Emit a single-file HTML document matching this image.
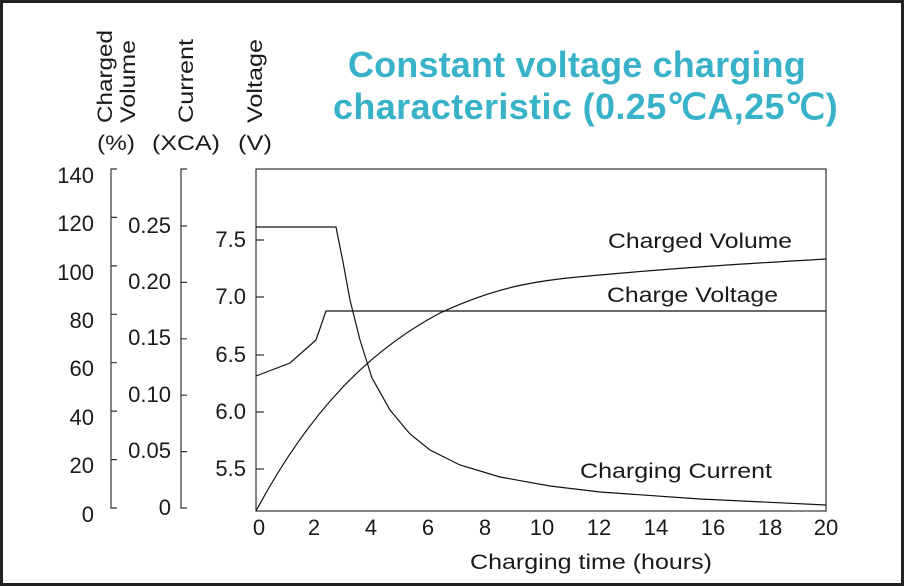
<!DOCTYPE html>
<html><head><meta charset="utf-8"><style>
html,body{margin:0;padding:0;background:#fff}
svg{display:block}
text{font-family:"Liberation Sans",Arial,sans-serif;fill:#1a1a1a}
</style></head><body>
<svg width="904" height="586" viewBox="0 0 904 586" xmlns="http://www.w3.org/2000/svg">
<rect x="1.5" y="1.5" width="901" height="583" fill="#fff" stroke="#222" stroke-width="3"/>
<g font-size="36" font-weight="bold" letter-spacing="0.3">
<text x="348" y="77" style="fill:#38b2c8" textLength="458">Constant voltage charging</text>
<text x="333" y="119" style="fill:#38b2c8" textLength="505">characteristic (0.25℃A,25℃)</text>
</g>
<g font-size="21">
<text transform="translate(112,123) rotate(-90)" textLength="93" lengthAdjust="spacingAndGlyphs">Charged</text>
<text transform="translate(135,123) rotate(-90)" textLength="83" lengthAdjust="spacingAndGlyphs">Volume</text>
<text transform="translate(193,123) rotate(-90)" textLength="84" lengthAdjust="spacingAndGlyphs">Current</text>
<text transform="translate(262,123) rotate(-90)" textLength="84" lengthAdjust="spacingAndGlyphs">Voltage</text>
<text x="97" y="150" textLength="38" lengthAdjust="spacingAndGlyphs">(%)</text>
<text x="152" y="150" textLength="68" lengthAdjust="spacingAndGlyphs">(XCA)</text>
<text x="238" y="150" textLength="34" lengthAdjust="spacingAndGlyphs">(V)</text>
</g>
<g stroke="#333" stroke-width="1.2" fill="none">
<path d="M117 169H111V508H117"/>
<path d="M111 217.4H117M111 265.9H117M111 314.3H117M111 362.7H117M111 411.1H117M111 459.6H117"/>
<path d="M187 169H181V508H187"/>
<path d="M181 226H187M181 282.4H187M181 338.8H187M181 395.2H187M181 451.6H187"/>
<rect x="256" y="169" width="570" height="342"/>
<path d="M256 240H264M256 297H264M256 355H264M256 412H264M256 469H264"/>
</g>
<g font-size="22" text-anchor="end">
<text x="94" y="183">140</text><text x="94" y="231">120</text><text x="94" y="280">100</text>
<text x="94" y="328">80</text><text x="94" y="376">60</text><text x="94" y="425">40</text>
<text x="94" y="473">20</text><text x="94" y="522">0</text>
<text x="171" y="233">0.25</text><text x="171" y="289">0.20</text><text x="171" y="345">0.15</text>
<text x="171" y="402">0.10</text><text x="171" y="458">0.05</text><text x="171" y="515">0</text>
<text x="246" y="247">7.5</text><text x="246" y="304">7.0</text><text x="246" y="362">6.5</text>
<text x="246" y="419">6.0</text><text x="246" y="476">5.5</text>
</g>
<g font-size="22" text-anchor="middle">
<text x="259" y="535">0</text><text x="314" y="535">2</text><text x="371" y="535">4</text>
<text x="428" y="535">6</text><text x="485" y="535">8</text><text x="542" y="535">10</text>
<text x="599" y="535">12</text><text x="656" y="535">14</text><text x="713" y="535">16</text>
<text x="770" y="535">18</text><text x="826" y="535">20</text>
</g>
<g font-size="21">
<text x="470" y="569" textLength="242" lengthAdjust="spacingAndGlyphs">Charging time (hours)</text>
<text x="608" y="248" textLength="184" lengthAdjust="spacingAndGlyphs">Charged Volume</text>
<text x="607" y="302" textLength="171" lengthAdjust="spacingAndGlyphs">Charge Voltage</text>
<text x="580" y="478" textLength="192" lengthAdjust="spacingAndGlyphs">Charging Current</text>
</g>
<g stroke="#111" stroke-width="1.2" fill="none">
<polyline points="256,227 336,227 343,262 350,300 360,340 372,378 390,410 410,434 430,450 460,465 500,477 550,486 600,492 700,499 826,505"/>
<polyline points="256,376 290,363 316,340 326,311 826,311"/>
<path d="M256,511 C310,410 370,350 440,313 C500,285 540,280 600,275 C700,266 760,263 826,259"/>
</g>
</svg>
</body></html>
